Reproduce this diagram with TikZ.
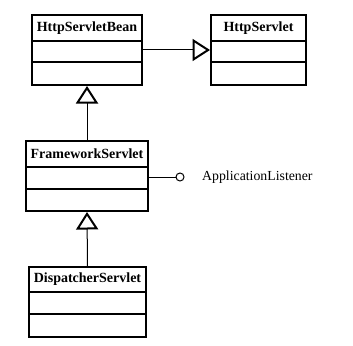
\documentclass[tikz,border=0pt]{standalone}
\usepackage{fontspec}
\setmainfont{Liberation Serif}
\usetikzlibrary{arrows.meta}
\begin{document}
\begin{tikzpicture}[x=1pt,y=-1pt,
  classframe/.style={draw, line width=2pt, rectangle, inner sep=0pt, minimum height=70pt},
  divider/.style={line width=1.5pt},
  title/.style={font=\fontsize{14}{16}\selectfont\bfseries, inner sep=0pt},
  assoc/.style={line width=1pt},
  inherit/.style={line width=1pt, -{Triangle[open, length=17.5pt, width=22pt, line width=2pt]}},
  iface/.style={draw, circle, line width=1pt, minimum size=8pt, inner sep=0pt},
  label/.style={font=\fontsize{13.8}{15}\selectfont, inner sep=0pt, anchor=west}]
\useasboundingbox (0,0) rectangle (353,345);
% class boxes
\node[classframe, minimum width=110pt] (bean) at (87,50) {};
\node[classframe, minimum width=95pt] (servlet) at (258.5,50) {};
\node[classframe, minimum width=122pt] (framework) at (87,176) {};
\node[classframe, minimum width=117pt] (dispatcher) at (87.5,302) {};
% compartments
\draw[divider] (32,41) -- (142,41) (32,62) -- (142,62);
\draw[divider] (211,41) -- (306,41) (211,62) -- (306,62);
\draw[divider] (26,167) -- (148,167) (26,189) -- (148,189);
\draw[divider] (29,292) -- (146,292) (29,314) -- (146,314);
% class names
\node[title] (beanname) at (87,28) {HttpServletBean};
\node[title] (servletname) at (258.5,28) {HttpServlet};
\node[title] (frameworkname) at (87,154) {FrameworkServlet};
\node[title] (dispatchername) at (87.5,279.5) {DispatcherServlet};
% generalizations
\draw[inherit] (bean.east) -- (servlet.west);
\draw[inherit] (framework.north) -- (bean.south);
\draw[inherit] (dispatcher.north) -- (framework.south);
% provided interface
\node[iface] (listener) at (180,177) {};
\draw[assoc] (framework.east |- listener) -- (listener);
\node[label] (listenername) at (202,177) {ApplicationListener};
\end{tikzpicture}
\end{document}
